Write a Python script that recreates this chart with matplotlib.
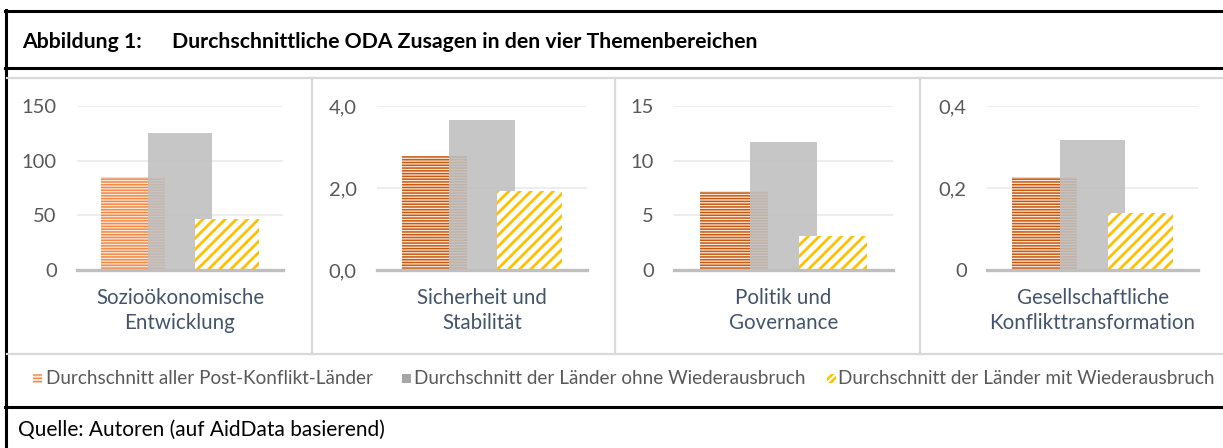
import matplotlib
matplotlib.use("Agg")
import matplotlib.pyplot as plt
from matplotlib import font_manager
from matplotlib.lines import Line2D
from matplotlib.patches import Rectangle

W, H = 1223, 448

# data
categories = [
    ["Sozioökonomische", "Entwicklung"],
    ["Sicherheit und", "Stabilität"],
    ["Politik und", "Governance"],
    ["Gesellschaftliche", "Konflikttransformation"],
]
alle = [85.0, 2.78, 7.2, 0.228]
ohne = [125.6, 3.66, 11.7, 0.317]
mit = [46.6, 1.93, 3.1, 0.138]
ymax = [150, 4.0, 15, 0.4]
yticks = [[0, 50, 100, 150], [0, 2, 4], [0, 5, 10, 15], [0, 0.2, 0.4]]
ytick_labels = [["0", "50", "100", "150"], ["0,0", "2,0", "4,0"],
                ["0", "5", "10", "15"], ["0", "0,2", "0,4"]]
legend_labels = ["Durchschnitt aller Post-Konflikt-Länder",
                 "Durchschnitt der Länder ohne Wiederausbruch",
                 "Durchschnitt der Länder mit Wiederausbruch"]
title = "Abbildung 1:"
subtitle = "Durchschnittliche ODA Zusagen in den vier Themenbereichen"
source = "Quelle: Autoren (auf AidData basierend)"

names = {f.name for f in font_manager.fontManager.ttflist}
narrow = "Liberation Sans Narrow" if "Liberation Sans Narrow" in names else "Lato"
plt.rcParams["font.family"] = ["Lato", "DejaVu Sans"]


def fx(px):
    return px / W


def fy(py):
    return 1 - py / H


def hatched(patch, lw):
    if hasattr(patch, "set_hatch_linewidth"):
        patch.set_hatch_linewidth(lw)


fig = plt.figure(figsize=(W / 100, H / 100), dpi=100)

orange_hatch = ["#EF8A47", "#C55A11", "#C55A11", "#C55A11"]
ax_px = [(77, 283), (377, 587), (674, 893), (987, 1198)]
step, width = 0.228, 0.31

for i, (x0, x1) in enumerate(ax_px):
    ax = fig.add_axes([fx(x0), fy(270), fx(x1 - x0), 164 / H])
    plt.rcParams["hatch.linewidth"] = 1.1
    b1 = ax.bar(-step, alle[i], width, color="#FCE6D8", edgecolor=orange_hatch[i],
                linewidth=0, hatch="------", zorder=2)
    for p in b1:
        hatched(p, 1.1)
    ax.bar(0, ohne[i], width, color="#BFBFBF", alpha=0.88, linewidth=0, zorder=3)
    plt.rcParams["hatch.linewidth"] = 2.0
    b3 = ax.bar(step, mit[i], width, color="white", edgecolor="#FFC000",
                linewidth=0, hatch="///", zorder=4)
    for p in b3:
        hatched(p, 2.0)
    ax.axhline(0, color="#BFBFBF", lw=2.4, zorder=5, clip_on=False)
    ax.set_xlim(-0.5, 0.5)
    ax.set_ylim(0, ymax[i])
    ax.set_yticks(yticks[i])
    ax.set_yticklabels(ytick_labels[i])
    ax.set_xticks([])
    ax.tick_params(axis="y", length=0, pad=14.5, labelsize=14.5, labelcolor="#595959")
    ax.grid(axis="y", color="#EDEDED", lw=1.4, zorder=0)
    ax.set_axisbelow(True)
    for s in ax.spines.values():
        s.set_visible(False)
    xc = (x0 + x1) / 2
    fig.text(fx(xc), fy(298), categories[i][0], ha="center", va="center",
             fontsize=14.8, color="#44546A")
    fig.text(fx(xc), fy(323), categories[i][1], ha="center", va="center",
             fontsize=14.8, color="#44546A")

# frame lines
for y in (11, 68, 407):
    fig.add_artist(Line2D([fx(5), 1], [fy(y), fy(y)], color="black", lw=2.2,
                          transform=fig.transFigure))
fig.add_artist(Line2D([fx(6), fx(6)], [fy(10), 0], color="black", lw=2.2,
                      transform=fig.transFigure))
for y in (78, 354):
    fig.add_artist(Line2D([fx(7), 1], [fy(y), fy(y)], color="#D9D9D9", lw=1.6,
                          transform=fig.transFigure))
for x in (312, 615, 920):
    fig.add_artist(Line2D([fx(x), fx(x)], [fy(78), fy(354)], color="#D9D9D9", lw=1.6,
                          transform=fig.transFigure))

# title and source
fig.text(fx(22), fy(42), title, ha="left", va="center", fontsize=15.3,
         fontweight="bold", color="black")
fig.text(fx(172), fy(42), subtitle, ha="left", va="center", fontsize=15.3,
         fontweight="bold", color="black")
fig.text(fx(18), fy(430), source, ha="left", va="center", fontsize=15,
         color="black")

# legend
leg_x = [(33, 46), (402, 414), (827, 838)]
styles = [dict(facecolor="#FCE6D8", edgecolor="#EF8A47", hatch="-----", hl=1.0),
          dict(facecolor="#A6A6A6", edgecolor="#A6A6A6", hatch=None, hl=1.0),
          dict(facecolor="white", edgecolor="#FFC000", hatch="/////", hl=1.8)]
for (mx, tx), lab, st in zip(leg_x, legend_labels, styles):
    plt.rcParams["hatch.linewidth"] = st["hl"]
    r = Rectangle((fx(mx), fy(383)), 9 / W, 9 / H, facecolor=st["facecolor"],
                  edgecolor=st["edgecolor"], hatch=st["hatch"], linewidth=0,
                  transform=fig.transFigure)
    hatched(r, st["hl"])
    fig.add_artist(r)
    fig.text(fx(tx), fy(378), lab, ha="left", va="center", fontsize=13.6,
             color="#595959", family=[narrow, "DejaVu Sans"])

fig.savefig("out.png", dpi=100)
